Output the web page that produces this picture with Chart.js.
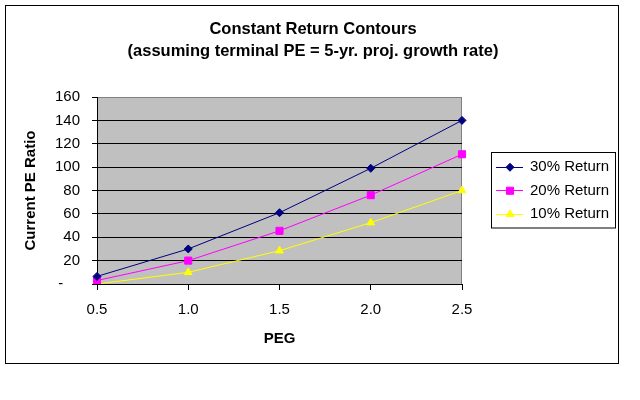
<!DOCTYPE html>
<html>
<head>
<meta charset="utf-8">
<script src="https://cdn.jsdelivr.net/npm/chart.js@4/dist/chart.umd.min.js"></script>
<style>
  html, body { margin: 0; padding: 0; background: #fff; }
  #wrap { width: 640px; height: 400px; }
</style>
</head>
<body>
<div id="wrap"><canvas id="grafica" width="640" height="400"></canvas></div>
<script>
// =================== Datos ===================
const PEG = ["0.5", "1.0", "1.5", "2.0", "2.5"];
const RET30 = [6.5, 30, 61, 99, 140];
const RET20 = [3, 20, 45.5, 76, 111];
const RET10 = [0, 10, 28.5, 52.5, 80];

const Y_MIN = 0;
const Y_MAX = 160;
const Y_STEP = 20;

const TITULO = ["Constant Return Contours", "(assuming terminal PE = 5-yr. proj. growth rate)"];
const TITULO_X = "PEG";
const TITULO_Y = "Current PE Ratio";

Chart.defaults.font.family = '"Liberation Sans", Arial, sans-serif';
Chart.defaults.color = "#000";

// =================== Plugins ===================
// fondo gris del área de trazado + marco exterior
const marcos = {
  id: "marcos",
  beforeDraw(chart) {
    const { ctx, chartArea: a } = chart;
    ctx.save();
    ctx.fillStyle = "#fff";
    ctx.fillRect(0, 0, chart.width, chart.height);
    ctx.fillStyle = "#c0c0c0";
    ctx.fillRect(a.left, a.top, a.right - a.left, a.bottom - a.top);
    ctx.strokeStyle = "#808080";
    ctx.lineWidth = 1;
    ctx.strokeRect(a.left + 0.5, a.top + 0.5, a.right - a.left - 1, a.bottom - a.top);
    ctx.restore();
  },
  afterDraw(chart) {
    const ctx = chart.ctx;
    ctx.save();
    ctx.strokeStyle = "#000";
    ctx.lineWidth = 1;
    ctx.strokeRect(5.5, 5.5, 613, 358);
    ctx.restore();
  }
};

// leyenda estilo Excel (línea + marcador, con recuadro), como caja del layout
const leyendaCaja = {
  id: "leyendaCaja",
  beforeInit(chart) {
    const box = {
      position: "right",
      weight: 0,
      fullSize: false,
      options: {},
      width: 0,
      height: 0,
      isHorizontal() { return false; },
      update(maxW, maxH) { this.width = 154; this.height = maxH; },
      draw() {
        const ctx = chart.ctx;
        const a = chart.chartArea;
        const fila = 23.5;
        const n = chart.data.datasets.length;
        const x0 = this.left + 29;
        const w = this.right - x0;
        const h = n * fila + 6;
        const y0 = Math.round((a.top + a.bottom) / 2 - h / 2);
        ctx.save();
        ctx.fillStyle = "#fff";
        ctx.fillRect(x0, y0, w, h);
        ctx.strokeStyle = "#000";
        ctx.lineWidth = 1;
        ctx.strokeRect(x0 + 0.5, y0 + 0.5, w - 1, h - 1);
        chart.data.datasets.forEach((ds, i) => {
          const cy = y0 + 3 + fila * i + fila / 2 + 0.5;
          ctx.strokeStyle = ds.borderColor;
          ctx.fillStyle = ds.backgroundColor;
          ctx.beginPath();
          ctx.moveTo(x0 + 5, Math.floor(cy) + 0.5);
          ctx.lineTo(x0 + 32, Math.floor(cy) + 0.5);
          ctx.stroke();
          Chart.helpers.drawPoint(ctx, {
            pointStyle: ds.pointStyle,
            radius: ds.pointRadius,
            borderWidth: 1
          }, x0 + 19, cy);
          ctx.fillStyle = "#000";
          ctx.font = '15px "Liberation Sans", Arial, sans-serif';
          ctx.textBaseline = "middle";
          ctx.textAlign = "left";
          ctx.fillText(ds.label, x0 + 39, cy);
        });
        ctx.restore();
      }
    };
    Chart.layouts.addBox(chart, box);
  }
};

// =================== Gráfica ===================
function serie(label, data, color, estilo, radio) {
  return {
    label,
    data,
    borderColor: color,
    backgroundColor: color,
    pointBackgroundColor: color,
    pointBorderColor: color,
    borderWidth: 1,
    pointStyle: estilo,
    pointRadius: radio,
    pointBorderWidth: 1,
    tension: 0
  };
}

new Chart(document.getElementById("grafica").getContext("2d"), {
  type: "line",
  data: {
    labels: PEG,
    datasets: [
      serie("30% Return", RET30, "#000080", "rectRot", 4),
      serie("20% Return", RET20, "#ff00ff", "rect", 5),
      serie("10% Return", RET10, "#ffff00", "triangle", 4.5)
    ]
  },
  options: {
    responsive: false,
    animation: false,
    layout: { padding: { left: 10, right: 24, top: 5, bottom: 40 } },
    plugins: {
      legend: { display: false },
      tooltip: { enabled: false },
      title: {
        display: true,
        text: TITULO,
        color: "#000",
        font: { size: 16.5, weight: "bold", lineHeight: 22 / 16.5 },
        padding: { top: 13, bottom: 35 }
      }
    },
    scales: {
      x: {
        type: "category",
        offset: false,
        grid: {
          drawOnChartArea: false,
          drawTicks: true,
          tickLength: 6,
          color: "#000",
          tickColor: "#000"
        },
        border: { color: "#000", width: 1 },
        ticks: { font: { size: 15 }, padding: 11, maxRotation: 0 },
        title: {
          display: true,
          text: TITULO_X,
          font: { size: 15, weight: "bold" },
          padding: { top: 0, bottom: 12 }
        },
        afterFit(s) { s.height = 76; }
      },
      y: {
        min: Y_MIN,
        max: Y_MAX,
        grid: {
          color: (c) => (c.tick && c.tick.value === Y_MAX ? "#808080" : "#000"),
          tickColor: "#000",
          tickLength: 5,
          lineWidth: 1
        },
        border: { color: "#000", width: 1 },
        ticks: {
          stepSize: Y_STEP,
          font: { size: 15 },
          padding: 12,
          callback: (v) => (v === 0 ? "-    " : `${v}`)
        },
        title: {
          display: true,
          text: TITULO_Y,
          font: { size: 15, weight: "bold" },
          padding: { top: 12, bottom: 0 }
        },
        afterFit(s) { s.width = 87; }
      }
    }
  },
  plugins: [marcos, leyendaCaja]
});
</script>
</body>
</html>
